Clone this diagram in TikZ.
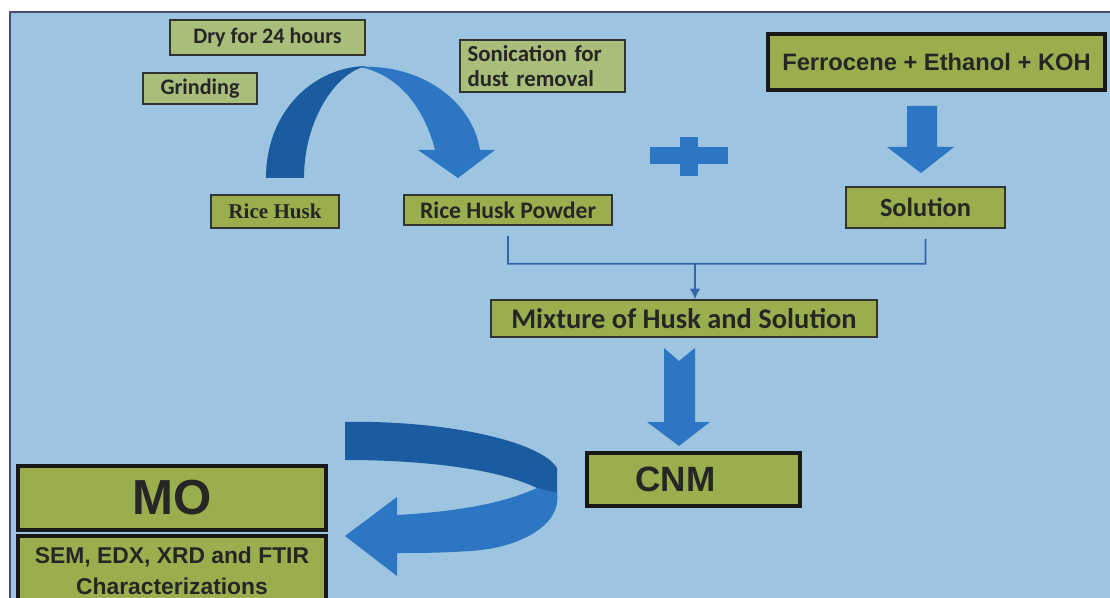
\documentclass[tikz,border=0pt]{standalone}
\usepackage{fontspec}
\setmainfont{Liberation Sans}
\newfontfamily\calfont{Carlito}
\newfontfamily\serfont{Liberation Serif}
\usetikzlibrary{arrows.meta,calc,positioning}
\definecolor{bgblue}{RGB}{157,196,224}
\definecolor{boxgreen}{RGB}{155,174,78}
\definecolor{palegreen}{RGB}{168,190,122}
\definecolor{arrowblue}{RGB}{44,118,196}
\definecolor{darkarrow}{RGB}{27,92,160}
\definecolor{linkblue}{RGB}{52,102,170}

\begin{document}
\begin{tikzpicture}[>=Latex, x=0.02cm, y=-0.02cm,
    stepbox/.style={draw=black!80, line width=0.9pt, fill=palegreen, text=black!85, inner sep=0pt,
      font=\calfont\bfseries\fontsize{12.6}{14}\selectfont},
    midbox/.style={stepbox, fill=boxgreen, font=\calfont\bfseries\fontsize{15}{17}\selectfont},
    bigbox/.style={draw=black!90, line width=1.8pt, fill=boxgreen, text=black!85, inner sep=0pt,
      font=\bfseries\fontsize{13.5}{15}\selectfont}]
    \useasboundingbox (0,0) rectangle (1110,598);
    \fill[white] (0,0) rectangle (1110,598);
    \fill[bgblue] (10,12) rectangle (1110,598);
    \draw[black!60!blue!40!gray, line width=1.2pt] (10,598) -- (10,12) -- (1110,12);

    \node[stepbox, minimum width=3.9cm, minimum height=0.7cm] (dry) at (267.5,37.5) {Dry for 24 hours};
    \node[stepbox, minimum width=2.28cm, minimum height=0.62cm] (grind) at (200,88.5) {Grinding};
    \node[stepbox, minimum width=3.3cm, minimum height=1.04cm, text width=3.0cm, align=left,
      font=\calfont\bfseries\fontsize{13}{14}\selectfont] (sonic) at (542.5,66) {Sonication for\\dust removal};
    \node[bigbox, minimum width=6.74cm, minimum height=1.12cm] (ferro) at (936.5,62) {Ferrocene + Ethanol + KOH};

    \node[stepbox, fill=boxgreen, minimum width=2.56cm, minimum height=0.66cm,
      font=\serfont\bfseries\fontsize{12}{14}\selectfont] (husk) at (275,211.5) {Rice Husk};
    \node[stepbox, fill=boxgreen, minimum width=4.16cm, minimum height=0.6cm,
      font=\calfont\bfseries\fontsize{13.5}{15}\selectfont] (powder) at (508,210) {Rice Husk Powder};
    \node[midbox, minimum width=3.18cm, minimum height=0.82cm] (sol) at (925.5,207.5) {Solution};
    \node[midbox, minimum width=7.72cm, minimum height=0.74cm,
      font=\calfont\bfseries\fontsize{16.2}{18}\selectfont] (mix) at (684,318.5) {Mixture of Husk and Solution};

    \node[bigbox, minimum width=4.26cm, minimum height=1.06cm, font=\bfseries\fontsize{20}{22}\selectfont]
      (cnm) at (693.5,479.5) {CNM\rule{0.72cm}{0pt}};
    \node[bigbox, minimum width=6.16cm, minimum height=1.28cm, font=\bfseries\fontsize{28}{30}\selectfont]
      (mo) at (172,498) {MO};
    \node[bigbox, minimum width=6.16cm, minimum height=1.4cm, align=center,
      font=\bfseries\fontsize{13}{17.6}\selectfont] (chars) at (172,571) {SEM, EDX, XRD and FTIR\\Characterizations};

    \coordinate (pl) at ($(powder.south)+(0,10)$);
    \coordinate (sl) at ($(sol.south)+(0,10)$);
    \coordinate (pj) at ($(pl)+(0,28)$);
    \coordinate (sj) at ($(sl)+(0,25)$);
    \draw[linkblue, line width=0.9pt] (pl) -- (pj) -- (sj) -- (sl);
    \draw[linkblue, line width=0.9pt, -{Latex[length=6pt,width=6pt]}] (mix.north |- pj) ++(11,0) -- ($(mix.north)+(11,0)$);

    \fill[darkarrow] (266,178) .. controls (266,110) and (315,66) .. (368,66)
      .. controls (338,70) and (304,118) .. (304,178) -- cycle;
    \fill[arrowblue] (360,67) .. controls (420,64) and (472,100) .. (480,150) -- (495,150) -- (458,178)
      -- (418,150) -- (435,150) .. controls (425,110) and (400,75) .. (360,67) -- cycle;

    \fill[arrowblue] (650,147) rectangle (728,164);
    \fill[arrowblue] (680,137) rectangle (698,176);

    \fill[arrowblue] (907,106) -- (937,106) -- (937,147) -- (954,147) -- (921,173) -- (887,147) -- (907,147) -- cycle;
    \fill[arrowblue] (664,348) -- (679,361) -- (695,348) -- (695,422) -- (710,422) -- (679,446) -- (647,422) -- (664,422) -- cycle;

    \fill[darkarrow] (345,422) .. controls (440,420) and (540,440) .. (557,468) -- (557,495) -- (537,488)
      .. controls (500,470) and (430,460) .. (345,460) -- cycle;
    \fill[arrowblue] (537,488) -- (557,493) .. controls (562,525) and (520,548) .. (470,551)
      .. controls (440,553) and (420,553) .. (397,553) -- (397,576) -- (345,536) -- (397,497) -- (397,515)
      .. controls (450,512) and (500,505) .. (537,488) -- cycle;
  \end{tikzpicture}
\end{document}
